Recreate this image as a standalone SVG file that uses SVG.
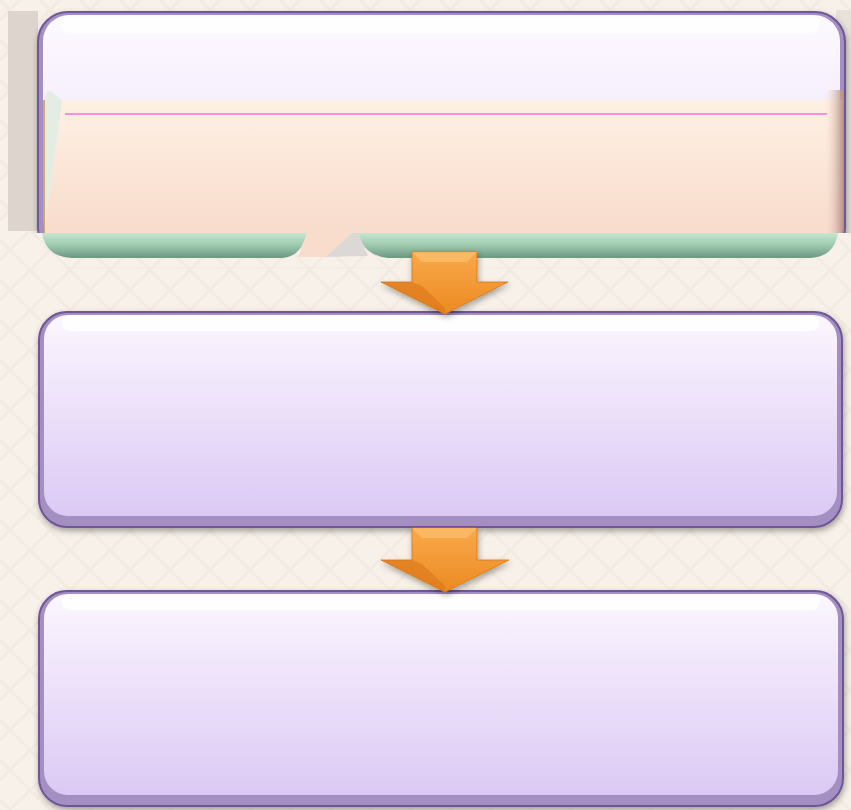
<svg xmlns="http://www.w3.org/2000/svg" width="851" height="810" viewBox="0 0 851 810">
<defs>
<style>
.frame{fill:#a48fc3;stroke:#6f5497;stroke-width:2}
.face{fill:url(#lav)}
.hi{fill:#ffffff;opacity:0.85}
.arrow{fill:url(#org);stroke:#d4731a;stroke-width:0.8}
.facetL{fill:#fbbd6a;opacity:0.8}
.facetD{fill:#d9731a;opacity:0.55}
</style>
<pattern id="bgp" width="40" height="40" patternUnits="userSpaceOnUse">
<rect width="40" height="40" fill="#f7f1e9"/>
<path d="M0,20 L20,0 M20,40 L40,20 M0,0 L40,40" stroke="#efe6db" stroke-width="3" fill="none" opacity="0.5"/>
</pattern>
<linearGradient id="lav" x1="0" y1="0" x2="0" y2="1">
<stop offset="0" stop-color="#fcf8fe"/>
<stop offset="0.15" stop-color="#f7effd"/>
<stop offset="1" stop-color="#dbc9f4"/>
</linearGradient>
<linearGradient id="lavtop" x1="0" y1="0" x2="0" y2="1">
<stop offset="0" stop-color="#fdfaff"/>
<stop offset="0.4" stop-color="#f6eefd"/>
<stop offset="1" stop-color="#e2d3f6"/>
</linearGradient>
<linearGradient id="peach" x1="0" y1="0" x2="0" y2="1">
<stop offset="0" stop-color="#fef0e4"/>
<stop offset="1" stop-color="#f8dccc"/>
</linearGradient>
<linearGradient id="peachR" x1="0" y1="0" x2="1" y2="0">
<stop offset="0" stop-color="#f6dccd" stop-opacity="0"/>
<stop offset="1" stop-color="#b89487"/>
</linearGradient>
<linearGradient id="green" x1="0" y1="0" x2="0" y2="1">
<stop offset="0" stop-color="#c6e6d2"/>
<stop offset="0.45" stop-color="#a0cdb2"/>
<stop offset="1" stop-color="#6d9880"/>
</linearGradient>
<linearGradient id="org" x1="0" y1="0" x2="0" y2="1">
<stop offset="0" stop-color="#f9a94a"/>
<stop offset="1" stop-color="#ec8a22"/>
</linearGradient>
<filter id="sh" x="-5%" y="-10%" width="110%" height="125%">
<feGaussianBlur in="SourceAlpha" stdDeviation="3"/>
<feOffset dx="1" dy="3" result="b"/>
<feComponentTransfer><feFuncA type="linear" slope="0.35"/></feComponentTransfer>
<feMerge><feMergeNode/><feMergeNode in="SourceGraphic"/></feMerge>
</filter>
</defs>
<rect width="851" height="810" fill="url(#bgp)"/>

<g id="node1">
<rect x="8" y="11" width="30" height="220" fill="#ddd5cd"/>
<rect x="836" y="10" width="15" height="225" fill="#e7e1da"/>
<g filter="url(#sh)">
<rect class="frame" x="38" y="12" width="807" height="246" rx="30"/>
<rect x="43" y="15" width="797" height="232" rx="26" fill="url(#lavtop)"/>
<rect class="hi" x="60" y="15" width="760" height="18" rx="9"/>
</g>
<rect x="30" y="233" width="821" height="34" fill="url(#bgp)"/>
<rect x="44" y="100" width="799" height="133" fill="url(#peach)"/>
<rect x="825" y="90" width="18" height="143" fill="url(#peachR)"/>
<path d="M44,233 V100 Q47,88 52,92 Q56,96 62,100 Z" fill="#e4ede4"/>
<line x1="44" y1="100" x2="44" y2="233" stroke="#c98f5a" stroke-width="1.5"/>
<line x1="65" y1="114" x2="827" y2="114" stroke="#ff6ee0" stroke-width="1.5"/>
<path d="M42,233 H307 Q301,257 282,258 H72 Q46,257 42,233 Z" fill="url(#green)"/>
<path d="M358,233 H838 Q834,257 810,258 H388 Q363,255 358,233 Z" fill="url(#green)"/>
<polygon points="307,233 352,233 326,257 298,257" fill="#f8dccc"/>
<polygon points="352,233 358,233 368,256 326,257" fill="#dcd8d6"/>
</g>

<g id="node2" filter="url(#sh)">
<rect class="frame" x="39" y="312" width="803" height="215" rx="28"/>
<rect class="face" x="44" y="315" width="793" height="201" rx="24"/>
<rect class="hi" x="62" y="315" width="757" height="16" rx="8"/>
</g>

<g id="node3" filter="url(#sh)">
<rect class="frame" x="39" y="591" width="804" height="215" rx="28"/>
<rect class="face" x="44" y="594" width="794" height="201" rx="24"/>
<rect class="hi" x="62" y="594" width="758" height="16" rx="8"/>
</g>

<g id="connectors">
<g filter="url(#sh)">
<polygon class="arrow" points="412,252 477,252 477,282 508,282 445,314 381,282 412,282"/>
<polygon class="facetL" points="412,252 477,252 467,262 422,262"/>
<polygon class="facetD" points="381,282 412,282 422,286 445,308 445,314"/>
</g>
<g filter="url(#sh)">
<polygon class="arrow" points="412,528 477,528 477,560 509,560 445,592 381,560 412,560"/>
<polygon class="facetL" points="412,528 477,528 467,538 422,538"/>
<polygon class="facetD" points="381,560 412,560 422,564 445,586 445,592"/>
</g>
</g>
</svg>
